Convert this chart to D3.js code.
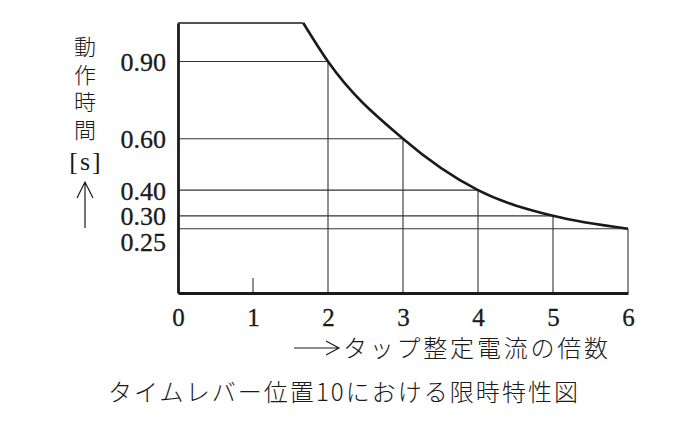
<!DOCTYPE html>
<html>
<head>
<meta charset="utf-8">
<script src="https://cdn.jsdelivr.net/npm/d3@7"></script>
<style>
  html, body { margin: 0; padding: 0; background: #fff; }
  svg { display: block; }
  .num { font-family: "Liberation Serif", "DejaVu Serif", serif; fill: #1a1a1a; }
  .jp  { font-family: "Noto Sans CJK JP", sans-serif; font-weight: 300; fill: #1a1a1a; }
</style>
</head>
<body>
<div id="chart"></div>
<script>
// Data
const multiples   = [2, 3, 4, 5, 6];                // タップ整定電流の倍数
const opTimes     = [0.90, 0.60, 0.40, 0.30, 0.25]; // 動作時間 [s]
const curveStart  = { m: 1.67, t: 1.05 };           // where the curve leaves the top edge
const xTicks      = [0, 1, 2, 3, 4, 5, 6];
const yTicks      = [0.90, 0.60, 0.40, 0.30, 0.25];
const yTitleText  = '動作時間';
const xTitle      = 'タップ整定電流の倍数';
const chartTitle  = 'タイムレバー位置10における限時特性図';

const W = 698, H = 428;
const ink = '#1a1a1a';

const svg = d3.select('#chart').append('svg')
  .attr('width', W)
  .attr('height', H);

const x = d3.scaleLinear().domain([0, 6]).range([178, 628]);
const y = d3.scaleLinear().domain([0, 1.05]).range([293, 23]);

const points = [curveStart].concat(multiples.map((m, i) => ({ m, t: opTimes[i] })));

// ── Grid: horizontal lines from the axis to the curve ────────────────────
svg.selectAll('.hgrid')
  .data(points.slice(1))
  .enter()
  .append('line')
  .attr('class', 'hgrid')
  .attr('x1', x(0))
  .attr('x2', d => x(d.m))
  .attr('y1', d => y(d.t))
  .attr('y2', d => y(d.t))
  .attr('stroke', '#333')
  .attr('stroke-width', 1.1);

// vertical lines from the x axis up to the curve
svg.selectAll('.vgrid')
  .data(points.slice(1))
  .enter()
  .append('line')
  .attr('class', 'vgrid')
  .attr('x1', d => x(d.m))
  .attr('x2', d => x(d.m))
  .attr('y1', y(0))
  .attr('y2', d => y(d.t))
  .attr('stroke', '#333')
  .attr('stroke-width', 1.1);

// top edge up to where the curve starts
svg.append('line')
  .attr('x1', x(0))
  .attr('x2', x(curveStart.m))
  .attr('y1', y(curveStart.t))
  .attr('y2', y(curveStart.t))
  .attr('stroke', ink)
  .attr('stroke-width', 1.6);

// small tick at 1
svg.append('line')
  .attr('x1', x(1))
  .attr('x2', x(1))
  .attr('y1', y(0))
  .attr('y2', y(0) - 15)
  .attr('stroke', '#333')
  .attr('stroke-width', 1.1);

// ── Curve ────────────────────────────────────────────────────────────────
const line = d3.line()
  .x(d => x(d.m))
  .y(d => y(d.t))
  .curve(d3.curveMonotoneX);

svg.append('path')
  .datum(points)
  .attr('d', line)
  .attr('fill', 'none')
  .attr('stroke', ink)
  .attr('stroke-width', 2.6);

// ── Axes ─────────────────────────────────────────────────────────────────
const xAxis = svg.append('g')
  .attr('transform', `translate(0,${y(0)})`)
  .call(d3.axisBottom(x).tickValues(xTicks).tickSize(0).tickPadding(15).tickFormat(d3.format('d')));
xAxis.select('.domain').attr('stroke', ink).attr('stroke-width', 2.8);
xAxis.selectAll('text')
  .attr('class', 'num')
  .style('font-size', '25px')
  .attr('fill', ink)
  .attr('stroke', ink)
  .attr('stroke-width', 0.3);

const yAxis = svg.append('g')
  .attr('transform', `translate(${x(0)},0)`)
  .call(d3.axisLeft(y).tickValues(yTicks).tickSize(0).tickPadding(12).tickFormat(d3.format('.2f')));
yAxis.select('.domain').attr('stroke', ink).attr('stroke-width', 2.8);
yAxis.selectAll('text')
  .attr('class', 'num')
  .style('font-size', '26px')
  .attr('fill', ink)
  .attr('stroke', ink)
  .attr('stroke-width', 0.3)
  // 0.25 sits just under its line so it does not collide with 0.30
  .attr('dy', d => d === 0.25 ? '0.83em' : '0.35em');

// ── Y title: vertical text, [s], up arrow ────────────────────────────────
const yTitleX = 85;
svg.append('text')
  .attr('class', 'jp')
  .attr('x', yTitleX)
  .attr('y', 36)
  .style('writing-mode', 'vertical-rl')
  .style('font-size', '22px')
  .style('letter-spacing', '5.5px')
  .text(yTitleText);

svg.append('text')
  .attr('class', 'num')
  .attr('x', yTitleX + 1)
  .attr('y', 170)
  .attr('text-anchor', 'middle')
  .attr('letter-spacing', '2')
  .style('font-size', '26px')
  .text('[s]');

svg.append('path')
  .attr('d', `M${yTitleX},228 L${yTitleX},182 M${yTitleX - 8},198 L${yTitleX},182 L${yTitleX + 8},198`)
  .attr('fill', 'none')
  .attr('stroke', ink)
  .attr('stroke-width', 1.2);

// ── X title with right arrow ─────────────────────────────────────────────
svg.append('path')
  .attr('d', 'M294,348 L339,348 M326,341 L339,348 L326,355')
  .attr('fill', 'none')
  .attr('stroke', ink)
  .attr('stroke-width', 1.2);

svg.append('text')
  .attr('class', 'jp')
  .attr('x', 343)
  .attr('y', 357)
  .attr('textLength', 265)
  .style('font-size', '24px')
  .text(xTitle);

// ── Caption ──────────────────────────────────────────────────────────────
svg.append('text')
  .attr('class', 'jp')
  .attr('x', 108)
  .attr('y', 401)
  .attr('textLength', 470)
  .style('font-size', '24px')
  .text(chartTitle);
</script>
</body>
</html>
